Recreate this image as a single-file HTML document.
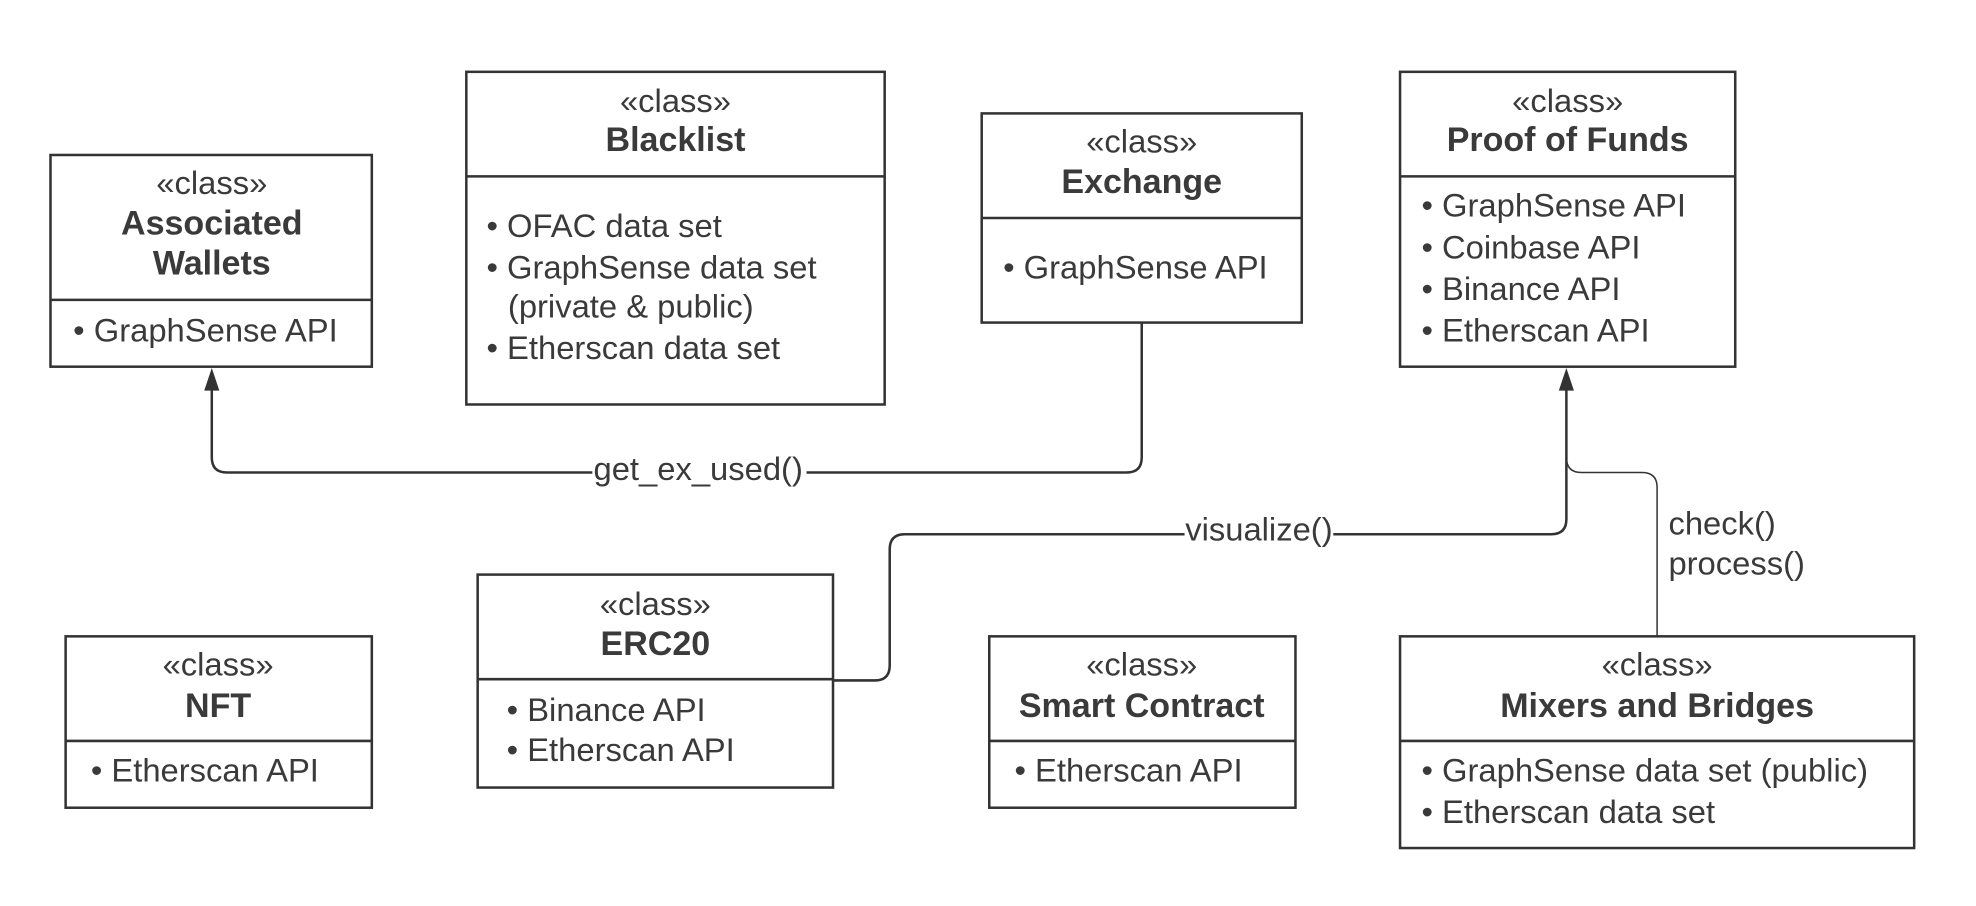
<!DOCTYPE html>
<html><head><meta charset="utf-8"><style>
html,body{margin:0;padding:0;background:#fff;}
svg{display:block;}
text{font-family:"Liberation Sans",sans-serif;fill:#3a3a3a;font-size:26px;}
.b{font-weight:bold;font-size:27px;}
.c{text-anchor:middle;}
</style></head><body>
<svg width="1976" height="906" viewBox="0 0 1568 719" xmlns="http://www.w3.org/2000/svg">
<rect width="1568" height="719" fill="#fff"/>
<g fill="none" stroke="#333" stroke-width="2">
<rect x="40" y="123" width="255" height="168"/><line x1="40" y1="238" x2="295" y2="238"/>
<rect x="370" y="57" width="332" height="264"/><line x1="370" y1="140" x2="702" y2="140"/>
<rect x="779" y="90" width="254" height="166"/><line x1="779" y1="173" x2="1033" y2="173"/>
<rect x="1111" y="57" width="266" height="234"/><line x1="1111" y1="140" x2="1377" y2="140"/>
<rect x="52" y="505" width="243" height="136"/><line x1="52" y1="588" x2="295" y2="588"/>
<rect x="379" y="456" width="282" height="169"/><line x1="379" y1="539" x2="661" y2="539"/>
<rect x="785" y="505" width="243" height="136"/><line x1="785" y1="588" x2="1028" y2="588"/>
<rect x="1111" y="505" width="408" height="168"/><line x1="1111" y1="588" x2="1519" y2="588"/>
<path d="M906 256 V363 Q906 375 894 375 H180 Q168 375 168 363 V305"/>
<path d="M661 540 H694 Q706 540 706 528 V436 Q706 424 718 424 H1231 Q1243 424 1243 412 V305"/>
<path d="M1315 505 V387 Q1315 375 1303 375 H1255 Q1243 375 1243 363" stroke-width="1.2"/>
</g>
<path d="M168 292 L162 310 L174 310 Z" fill="#333"/>
<path d="M1243 292 L1237 310 L1249 310 Z" fill="#333"/>
<rect x="470" y="360" width="170" height="28" fill="#fff"/>
<text x="554" y="381" class="c">get_ex_used()</text>
<rect x="940" y="408" width="118" height="28" fill="#fff"/>
<text x="999" y="429" class="c">visualize()</text>
<text x="1324" y="424">check()</text>
<text x="1324" y="456">process()</text>

<text x="168" y="154" class="c">«class»</text>
<text x="168" y="186" class="c b">Associated</text>
<text x="168" y="218" class="c b">Wallets</text>
<text x="58" y="271">• GraphSense API</text>

<text x="536" y="89" class="c">«class»</text>
<text x="536" y="120" class="c b">Blacklist</text>
<text x="386" y="188">• OFAC data set</text>
<text x="386" y="221">• GraphSense data set</text>
<text x="403" y="252">(private &amp; public)</text>
<text x="386" y="285">• Etherscan data set</text>

<text x="906" y="121" class="c">«class»</text>
<text x="906" y="153" class="c b">Exchange</text>
<text x="796" y="221">• GraphSense API</text>

<text x="1244" y="89" class="c">«class»</text>
<text x="1244" y="120" class="c b">Proof of Funds</text>
<text x="1128" y="172">• GraphSense API</text>
<text x="1128" y="205">• Coinbase API</text>
<text x="1128" y="238">• Binance API</text>
<text x="1128" y="271">• Etherscan API</text>

<text x="173" y="536" class="c">«class»</text>
<text x="173" y="569" class="c b">NFT</text>
<text x="72" y="620">• Etherscan API</text>

<text x="520" y="488" class="c">«class»</text>
<text x="520" y="520" class="c b">ERC20</text>
<text x="402" y="572">• Binance API</text>
<text x="402" y="604">• Etherscan API</text>

<text x="906" y="536" class="c">«class»</text>
<text x="906" y="569" class="c b">Smart Contract</text>
<text x="805" y="620">• Etherscan API</text>

<text x="1315" y="536" class="c">«class»</text>
<text x="1315" y="569" class="c b">Mixers and Bridges</text>
<text x="1128" y="620">• GraphSense data set (public)</text>
<text x="1128" y="653">• Etherscan data set</text>
</svg>
</body></html>
